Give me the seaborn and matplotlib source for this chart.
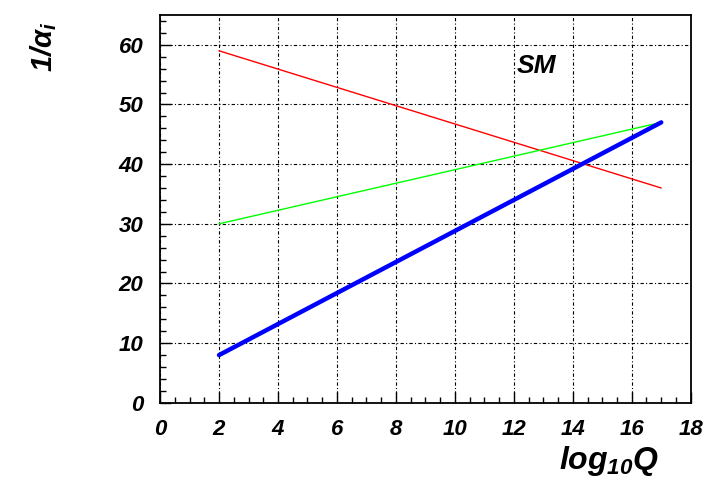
import pandas as pd
import seaborn as sns
import matplotlib.pyplot as plt
from matplotlib.ticker import MultipleLocator

# Data
log_q = [2, 17]
inv_alpha_1 = [59, 36]    # red
inv_alpha_2 = [30, 47]    # green
inv_alpha_3 = [8, 47]     # blue

series_names = ["red", "green", "blue"]
series_colors = ["#ff0000", "#00ff00", "#0000ff"]
series_widths = [1.0, 1.0, 3.2]

df = pd.DataFrame({
    "x": log_q * 3,
    "y": inv_alpha_1 + inv_alpha_2 + inv_alpha_3,
    "series": [s for s in series_names for _ in log_q],
})

sns.set_style("ticks")
plt.rcParams['font.family'] = ['Liberation Sans', 'DejaVu Sans']
plt.rcParams['text.color'] = 'black'
plt.rcParams['xtick.color'] = 'black'
plt.rcParams['ytick.color'] = 'black'
plt.rcParams['axes.edgecolor'] = 'black'
plt.rcParams['mathtext.fontset'] = 'custom'
plt.rcParams['mathtext.it'] = 'Liberation Sans:bold:italic'
plt.rcParams['mathtext.rm'] = 'Liberation Sans:bold:italic'
plt.rcParams['mathtext.bf'] = 'Liberation Sans:bold:italic'

fig = plt.figure(figsize=(7.21, 4.83), dpi=100)
ax = fig.add_axes([0.222, 0.166, 0.736, 0.803])

for name, color, lw in zip(series_names, series_colors, series_widths):
    sub = df[df["series"] == name]
    sns.lineplot(data=sub, x="x", y="y", color=color, linewidth=lw, ax=ax)

ax.set_xlim(0, 18)
ax.set_ylim(0, 65)
ax.xaxis.set_major_locator(MultipleLocator(2))
ax.xaxis.set_minor_locator(MultipleLocator(0.5))
ax.yaxis.set_major_locator(MultipleLocator(10))
ax.yaxis.set_minor_locator(MultipleLocator(2))

ax.grid(True, which="major", color="black", linestyle=(0, (3, 2, 1, 2)), linewidth=0.8)
ax.tick_params(which="major", direction="in", length=8, width=1, top=False, right=False,
               labelsize=16, pad=12)
ax.tick_params(which="minor", direction="in", length=4, width=1, top=False, right=False)
for lab in ax.get_xticklabels() + ax.get_yticklabels():
    lab.set_fontweight("heavy")
    lab.set_fontstyle("italic")
for sp in ax.spines.values():
    sp.set_linewidth(1.3)
    sp.set_visible(True)

ax.set_xlabel("")
ax.set_ylabel("")
fig.text(0.775, 0.03, r"$log_{10}Q$", fontsize=23)
fig.text(0.06, 0.955, r"$1/\alpha_{i}$", fontsize=21, rotation=90,
         ha="center", va="top")
ax.text(12.1, 55.3, "SM", fontsize=19, fontweight="bold", fontstyle="italic")

fig.savefig("out.png", dpi=100)
